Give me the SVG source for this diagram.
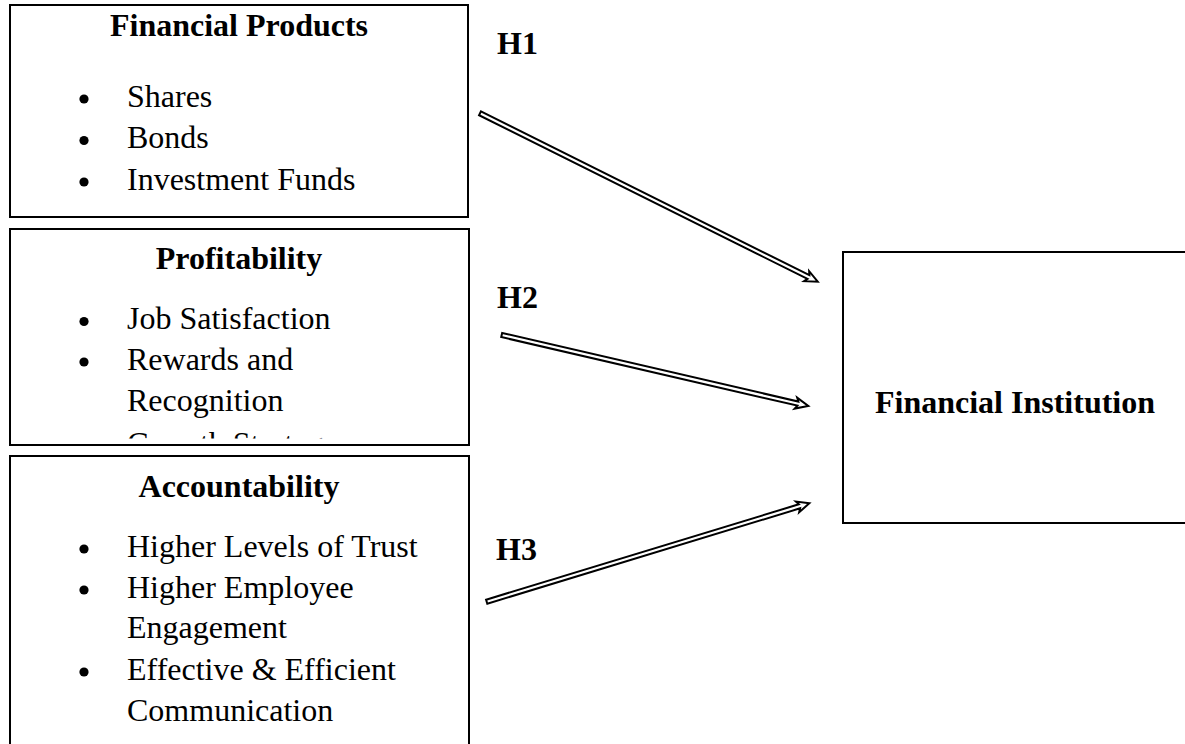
<svg xmlns="http://www.w3.org/2000/svg" width="1185" height="744" viewBox="0 0 1185 744">
  <style>
    .t { font-family: "Liberation Serif", "Times New Roman", serif; font-size: 32px; fill: #000; }
    .b { font-weight: bold; }
    .c { text-anchor: middle; }
    .box { fill: none; stroke: #000; stroke-width: 2; }
    .dot { fill: #000; }
    .arrow { fill: #fff; stroke: #000; stroke-width: 2; stroke-linejoin: miter; }
  </style>
  <defs>
    <clipPath id="clip-profit">
      <rect x="10" y="229" width="459" height="209.5"/>
    </clipPath>
  </defs>
  <rect width="1185" height="744" fill="#fff"/>

  <g id="financial-products">
    <rect class="box" x="10" y="5" width="458" height="212"/>
    <text class="t b c" x="239" y="36">Financial Products</text>
    <circle class="dot" cx="84" cy="99" r="4.6"/>
    <text class="t" x="127" y="106.7">Shares</text>
    <circle class="dot" cx="84" cy="140.5" r="4.6"/>
    <text class="t" x="127" y="148.3">Bonds</text>
    <circle class="dot" cx="84" cy="182" r="4.6"/>
    <text class="t" x="127" y="190">Investment Funds</text>
  </g>

  <g id="profitability">
    <g clip-path="url(#clip-profit)">
      <text class="t b c" x="239" y="269.3">Profitability</text>
      <circle class="dot" cx="84" cy="321.5" r="4.6"/>
      <text class="t" x="127" y="329.3">Job Satisfaction</text>
      <circle class="dot" cx="84" cy="362" r="4.6"/>
      <text class="t" x="127" y="370">Rewards and</text>
      <text class="t" x="127" y="410.5">Recognition</text>
      <circle class="dot" cx="84" cy="445.5" r="4.6"/>
      <text class="t" x="127" y="453.5">Growth Strategy</text>
    </g>
    <rect class="box" x="10" y="229" width="459" height="216"/>
  </g>

  <g id="accountability">
    <rect class="box" x="10" y="456" width="459" height="300"/>
    <text class="t b c" x="239" y="497.3">Accountability</text>
    <circle class="dot" cx="84" cy="549" r="4.6"/>
    <text class="t" x="127" y="556.7">Higher Levels of Trust</text>
    <circle class="dot" cx="84" cy="590" r="4.6"/>
    <text class="t" x="127" y="598">Higher Employee</text>
    <text class="t" x="127" y="638.3">Engagement</text>
    <circle class="dot" cx="84" cy="672" r="4.6"/>
    <text class="t" x="127" y="680">Effective &amp; Efficient</text>
    <text class="t" x="127" y="720.5">Communication</text>
  </g>

  <g id="financial-institution">
    <rect class="box" x="843" y="252" width="360" height="271"/>
    <text class="t b c" x="1015" y="413.3">Financial Institution</text>
  </g>

  <g id="connectors">
    <!-- double-line arrows, drawn along +x then rotated into place -->
    <g transform="translate(480,113.3) rotate(26.5)">
      <polygon class="arrow" points="0,-2.1 367,-2.1 365,-5.6 377.4,0 365,5.6 367,2.1 0,2.1"/>
    </g>
    <g transform="translate(501.7,335) rotate(13.04)">
      <polygon class="arrow" points="0,-2.1 304,-2.1 302,-5.6 314.7,0 302,5.6 304,2.1 0,2.1"/>
    </g>
    <g transform="translate(486.7,601.7) rotate(-16.96)">
      <polygon class="arrow" points="0,-2.1 327,-2.1 325,-5.6 337.3,0 325,5.6 327,2.1 0,2.1"/>
    </g>
    <text class="t b" x="497" y="54.3">H1</text>
    <text class="t b" x="497" y="308.3">H2</text>
    <text class="t b" x="496" y="560">H3</text>
  </g>
</svg>
